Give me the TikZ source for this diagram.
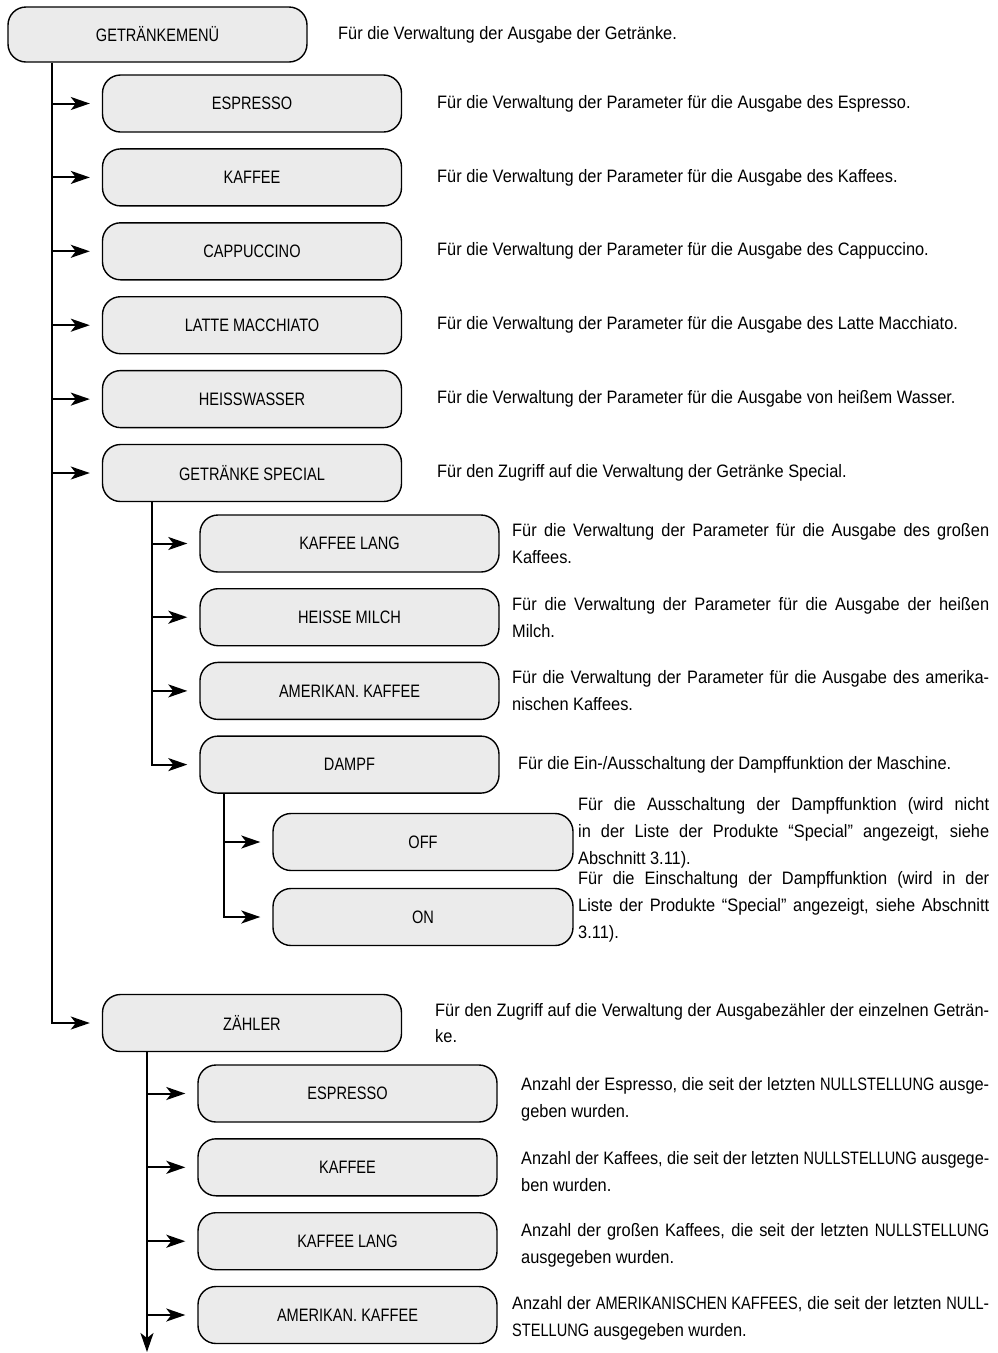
\documentclass[tikz,border=0pt]{standalone}
\usepackage{fontspec}
\usepackage{graphicx}
\setmainfont[FakeStretch=0.91]{Liberation Sans}
\newfontfamily\labelfont[FakeStretch=0.81]{Liberation Sans}
\usetikzlibrary{arrows.meta}
\definecolor{boxgray}{RGB}{235,235,235}
\newsavebox\flbox
\newcommand\fl[2]{\sbox\flbox{#2}\ifdim\wd\flbox>#1pt\relax\resizebox{#1pt}{\height}{\usebox\flbox}\else\makebox[#1pt][s]{#2}\fi}
\newcommand\cw[1]{{\labelfont #1}}
\begin{document}
\begin{tikzpicture}[x=1pt,y=-1pt,
  menubox/.style={draw=black, line width=1.4pt, fill=boxgray, rounded corners=18pt,
    minimum height=57pt, minimum width=299pt, inner sep=0pt,
    font=\labelfont\fontsize{18}{20}\selectfont},
  desc/.style={anchor=west, inner sep=0pt, align=left,
    font=\fontsize{18}{26.8}\selectfont},
  conn/.style={line width=2pt, -{Stealth[length=19pt,width=13pt,inset=5pt]}, shorten >=12pt}]
\useasboundingbox (0,0) rectangle (998,1353);

% trunk x positions
\coordinate (t1) at (52,0);
\coordinate (t2) at (152,0);
\coordinate (t3) at (224,0);
\coordinate (t4) at (147,0);
\coordinate (zend) at (147,1352);

% level 0
\node[menubox, minimum height=55pt] (top) at (157.5,34.5) {GETRÄNKEMENÜ};
\node[desc] (dtop) at (338,34.5) {Für die Verwaltung der Ausgabe der Getränke.};

% level 1
\node[menubox] (esp) at (252,103.5) {ESPRESSO};
\node[menubox] (kaf) at (252,177.4) {KAFFEE};
\node[menubox] (cap) at (252,251.3) {CAPPUCCINO};
\node[menubox] (lat) at (252,325.2) {LATTE MACCHIATO};
\node[menubox] (hei) at (252,399.1) {HEISSWASSER};
\node[menubox] (spe) at (252,473) {GETRÄNKE SPECIAL};
\node[menubox] (zae) at (252,1023) {ZÄHLER};

\node[desc] (desp) at (437,103.5) {Für die Verwaltung der Parameter für die Ausgabe des Espresso.};
\node[desc] (dkaf) at (437,177.4) {Für die Verwaltung der Parameter für die Ausgabe des Kaffees.};
\node[desc] (dcap) at (437,251.3) {Für die Verwaltung der Parameter für die Ausgabe des Cappuccino.};
\node[desc] (dlat) at (437,325.2) {Für die Verwaltung der Parameter für die Ausgabe des Latte Macchiato.};
\node[desc] (dhei) at (437,399.1) {Für die Verwaltung der Parameter für die Ausgabe von heißem Wasser.};
\node[desc] (dspe) at (437,473) {Für den Zugriff auf die Verwaltung der Getränke Special.};
\node[desc] (dzae) at (435,1023) {\fl{554}{Für den Zugriff auf die Verwaltung der Ausgabezähler der einzelnen Geträn-}\\ke.};

% level 2 (special)
\node[menubox] (kl) at (349.5,543.5) {KAFFEE LANG};
\node[menubox] (hm) at (349.5,617.2) {HEISSE MILCH};
\node[menubox] (ak) at (349.5,690.9) {AMERIKAN. KAFFEE};
\node[menubox] (dampf) at (349.5,764.6) {DAMPF};

\node[desc] (dkl) at (512,543.5) {\fl{477}{Für die Verwaltung der Parameter für die Ausgabe des großen}\\Kaffees.};
\node[desc] (dhm) at (512,617.2) {\fl{477}{Für die Verwaltung der Parameter für die Ausgabe der heißen}\\Milch.};
\node[desc] (dak) at (512,690.9) {\fl{477}{Für die Verwaltung der Parameter für die Ausgabe des amerika-}\\nischen Kaffees.};
\node[desc] (ddampf) at (518,764.6) {Für die Ein-/Ausschaltung der Dampffunktion der Maschine.};

% level 3
\node[menubox, minimum width=300pt] (off) at (423,842) {OFF};
\node[menubox, minimum width=300pt] (on) at (423,917) {ON};
\node[desc] (doff) at (578,833) {\fl{411}{Für die Ausschaltung der Dampffunktion (wird nicht}\\\fl{411}{in der Liste der Produkte “Special” angezeigt, siehe}\\Abschnitt 3.11).};
\node[desc] (don) at (578,907) {\fl{411}{Für die Einschaltung der Dampffunktion (wird in der}\\\fl{411}{Liste der Produkte “Special” angezeigt, siehe Abschnitt}\\3.11).};

% level 2 (zaehler)
\node[menubox] (zesp) at (347.5,1093.5) {ESPRESSO};
\node[menubox] (zkaf) at (347.5,1167.3) {KAFFEE};
\node[menubox] (zkl) at (347.5,1241.2) {KAFFEE LANG};
\node[menubox] (zak) at (347.5,1315) {AMERIKAN. KAFFEE};

\node[desc] (dzesp) at (521,1099) {\fl{468}{Anzahl der Espresso, die seit der letzten \cw{NULLSTELLUNG} ausge-}\\geben wurden.};
\node[desc] (dzkaf) at (521,1171.5) {\fl{468}{Anzahl der Kaffees, die seit der letzten \cw{NULLSTELLUNG} ausgege-}\\ben wurden.};
\node[desc] (dzkl) at (521,1245) {\fl{468}{Anzahl der großen Kaffees, die seit der letzten \cw{NULLSTELLUNG}}\\ausgegeben wurden.};
\node[desc] (dzak) at (512,1318) {\fl{477}{Anzahl der \cw{AMERIKANISCHEN KAFFEES}, die seit der letzten \cw{NULL}-}\\\cw{STELLUNG} ausgegeben wurden.};

% connectors
\draw[conn] (top.south -| t1) |- (zae.west);
\foreach \n in {esp,kaf,cap,lat,hei,spe} \draw[conn] (\n.west -| t1) -- (\n.west);
\draw[conn] (spe.south -| t2) |- (dampf.west);
\foreach \n in {kl,hm,ak} \draw[conn] (\n.west -| t2) -- (\n.west);
\draw[conn] (dampf.south -| t3) |- (on.west);
\draw[conn] (off.west -| t3) -- (off.west);
\draw[conn, shorten >=0pt] (zae.south -| t4) -- (zend);
\foreach \n in {zesp,zkaf,zkl,zak} \draw[conn] (\n.west -| t4) -- (\n.west);
\end{tikzpicture}
\end{document}
